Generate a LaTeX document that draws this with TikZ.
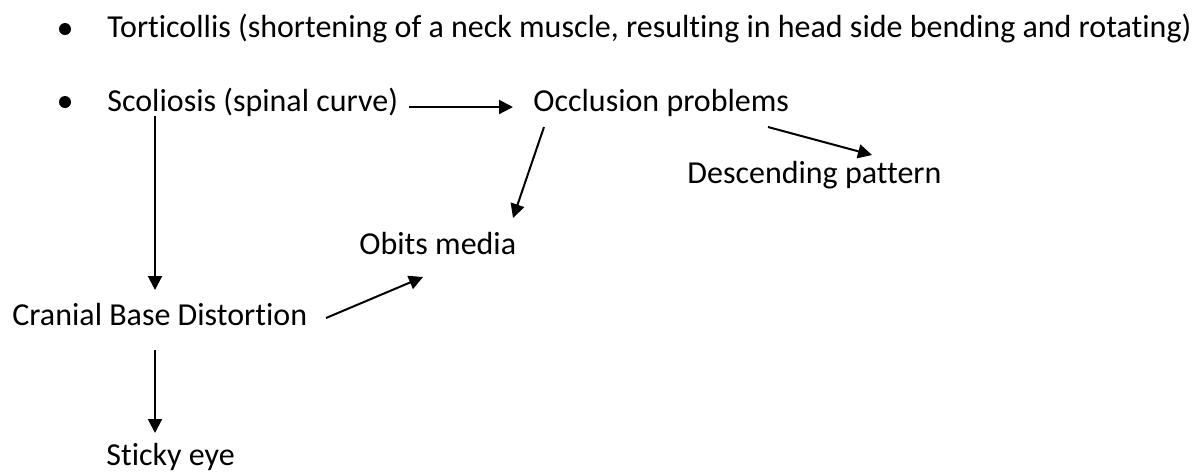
\documentclass[tikz,border=0pt]{standalone}
\usepackage{fontspec}
\setmainfont{Carlito}[Ligatures=NoCommon]
\usetikzlibrary{arrows.meta, positioning, calc}

\begin{document}
\begin{tikzpicture}[
    x=0.5pt, y=-0.5pt,
    item_text/.style={inner sep=0pt, anchor=base west, font=\fontsize{16pt}{19pt}\selectfont},
    bullet_dot/.style={circle, fill=black, inner sep=0pt, minimum size=6pt},
    arrow/.style={-{Triangle[length=7pt, width=7pt]}, line width=1pt}
]
\useasboundingbox (0,0) rectangle (1198,473);

% Bullets
\node[bullet_dot] (b1) at (65,29) {};
\node[bullet_dot] (b2) at (65,102) {};

% Texts
\node[item_text] (tort) at (107,37) {Torticollis (shortening of a neck muscle, resulting in head side bending and rotating)};
\node[item_text] (scol) at (107,111) {Scoliosis (spinal curve)};
\node[item_text] (occl) at (533,111) {Occlusion problems};
\node[item_text] (desc) at (687,183) {Descending pattern};
\node[item_text] (obits) at (359,254) {Obits media};
\node[item_text] (cran) at (12,325) {Cranial Base Distortion};
\node[item_text] (sticky) at (106,465) {Sticky eye};

% Connections
\draw[arrow] ([shift={(302,-4)}]scol.base west) -- ([shift={(-20,-4)}]occl.base west);
\draw[arrow] ([shift={(48,5)}]scol.base west) -- ([shift={(143,-35)}]cran.base west);
\draw[arrow] ([shift={(11,16)}]occl.base west) -- ([shift={(154,-36)}]obits.base west);
\draw[arrow] ([shift={(235,16)}]occl.base west) -- ([shift={(185,-28)}]desc.base west);
\draw[arrow] ([shift={(314,-7)}]cran.base west) -- ([shift={(64,23)}]obits.base west);
\draw[arrow] ([shift={(143,25)}]cran.base west) -- ([shift={(49,-32)}]sticky.base west);

\end{tikzpicture}
\end{document}
